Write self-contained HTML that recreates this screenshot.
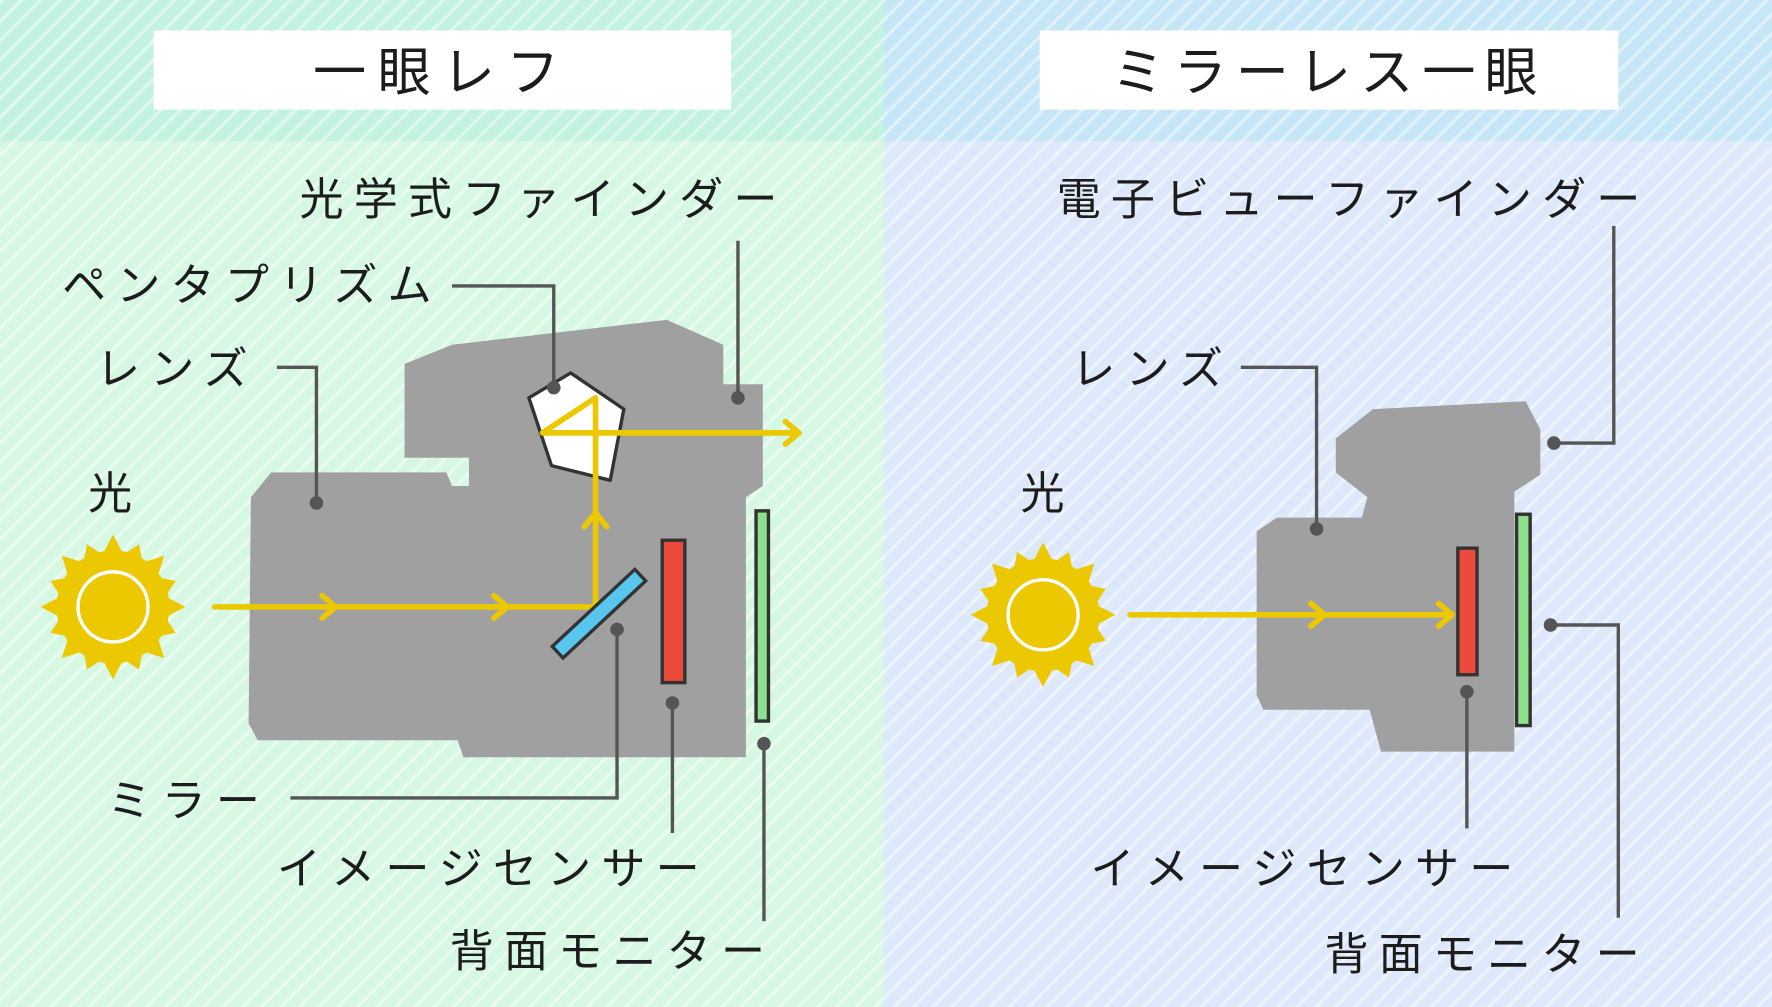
<!DOCTYPE html>
<html><head><meta charset="utf-8"><style>
html,body{margin:0;padding:0;background:#dff5ea;}
svg{display:block}
text{font-family:"Liberation Sans","Noto Sans CJK JP",sans-serif;fill:#1c1c1c;}
</style></head><body>
<svg width="1772" height="1007" viewBox="0 0 1568 891" preserveAspectRatio="none" xmlns="http://www.w3.org/2000/svg">
<defs>
<pattern id="st" width="12" height="12" patternUnits="userSpaceOnUse" patternTransform="rotate(-45)">
<rect width="12" height="3" fill="#ffffff" opacity="0.45"/>
</pattern>
<g id="sun">
<circle r="50" fill="#ebc800"/>
<g fill="#ebc800">
<polygon points="-10,-45 0,-64 10,-45"/><polygon points="-10,45 0,64 10,45"/>
<polygon points="-45,-10 -64,0 -45,10"/><polygon points="45,-10 64,0 45,10"/>
<g transform="rotate(45)"><polygon points="-10,-45 0,-64 10,-45"/><polygon points="-10,45 0,64 10,45"/><polygon points="-45,-10 -64,0 -45,10"/><polygon points="45,-10 64,0 45,10"/></g>
<g transform="rotate(22.5)"><polygon points="-10,-45 0,-60 10,-45"/><polygon points="-10,45 0,60 10,45"/><polygon points="-45,-10 -60,0 -45,10"/><polygon points="45,-10 60,0 45,10"/></g>
<g transform="rotate(67.5)"><polygon points="-10,-45 0,-60 10,-45"/><polygon points="-10,45 0,60 10,45"/><polygon points="-45,-10 -60,0 -45,10"/><polygon points="45,-10 60,0 45,10"/></g>
</g>
<circle r="31" fill="none" stroke="#fff" stroke-width="3"/>
</g>
</defs>
<rect x="0" y="0" width="782" height="125" fill="#c2f2e0"/>
<rect x="0" y="125" width="782" height="766" fill="#d6f7e2"/>
<rect x="782" y="0" width="786" height="125" fill="#c4e6f7"/>
<rect x="782" y="125" width="786" height="766" fill="#dde9fa"/>
<rect x="0" y="0" width="1568" height="891" fill="url(#st)"/>
<rect x="136" y="27" width="511" height="70" fill="#fff"/>
<rect x="920" y="27" width="512" height="70" fill="#fff"/>
<text x="391" y="80" font-size="47" text-anchor="middle" letter-spacing="10">一眼レフ</text>
<text x="1176" y="80" font-size="47" text-anchor="middle" letter-spacing="8">ミラーレス一眼</text>

<g fill="#a0a0a0">
<path d="M240,418 L395,418 L400,430 L415,430 L415,405 L358,405 L358,322 L400,305 L590,283 L640,305 L640,340 L675,340 L675,430 L660,440 L660,670 L410,670 L405,655 L228,655 L220,640 L222,440 Z"/>
</g>
<polygon points="468,352 505,330 552,362 540,425 488,412" fill="#fff" stroke="#333" stroke-width="3" stroke-linejoin="round"/>
<g stroke="#ebc800" stroke-width="5" fill="none" stroke-linecap="round" stroke-linejoin="round">
<path d="M190,537 L527,537 L527,352 L480,383 L705,383"/>
<path d="M285,527 L297,537 L285,547"/><path d="M437,527 L449,537 L437,547"/>
<path d="M517,466 L527,454 L537,466"/><path d="M695,373 L707,383 L695,393"/>
</g>
<g transform="translate(530,543) rotate(-43)"><rect x="-50" y="-7" width="100" height="14" fill="#58c6ee" stroke="#333" stroke-width="3"/></g>
<rect x="586" y="478" width="20" height="126" fill="#ec4a3a" stroke="#333" stroke-width="3"/>
<rect x="669" y="452" width="11" height="186" fill="#8de08d" stroke="#333" stroke-width="3"/>
<use href="#sun" x="100" y="537"/>
<g stroke="#555" stroke-width="3" fill="none">
<path d="M653,213 L653,352"/><path d="M400,253 L490,253 L490,343"/><path d="M245,325 L280,325 L280,445"/>
<path d="M257,706 L546,706 L546,557"/><path d="M595,737 L595,622"/><path d="M676,815 L676,658"/>
</g>
<g fill="#555"><circle cx="653" cy="352" r="6"/><circle cx="490" cy="343" r="6"/><circle cx="280" cy="445" r="6"/><circle cx="546" cy="557" r="6"/><circle cx="595" cy="622" r="6"/><circle cx="676" cy="658" r="6"/></g>
<g font-size="39" letter-spacing="9">
<text x="265" y="190">光学式ファインダー</text>
<text x="55" y="266">ペンタプリズム</text>
<text x="85" y="340">レンズ</text>
<text x="78" y="450">光</text>
<text x="95" y="722">ミラー</text>
<text x="245" y="782">イメージセンサー</text>
<text x="398" y="855">背面モニター</text>
</g>

<path d="M1130,458 L1205,458 L1210,440 L1182,418 L1182,388 L1215,362 L1350,355 L1363,380 L1363,420 L1340,435 L1340,665 L1222,665 L1212,628 L1118,628 L1112,615 L1112,470 Z" fill="#a0a0a0"/>
<g stroke="#ebc800" stroke-width="5" fill="none" stroke-linecap="round" stroke-linejoin="round">
<path d="M1000,544 L1285,544"/><path d="M1160,534 L1172,544 L1160,554"/><path d="M1273,534 L1285,544 L1273,554"/>
</g>
<rect x="1290" y="485" width="17" height="112" fill="#ec4a3a" stroke="#333" stroke-width="3"/>
<rect x="1342" y="455" width="12" height="187" fill="#8de08d" stroke="#333" stroke-width="3"/>
<use href="#sun" x="923" y="544"/>
<g stroke="#555" stroke-width="3" fill="none">
<path d="M1428,200 L1428,392 L1375,392"/><path d="M1098,325 L1165,325 L1165,468"/>
<path d="M1298,733 L1298,612"/><path d="M1432,812 L1432,553 L1372,553"/>
</g>
<g fill="#555"><circle cx="1375" cy="392" r="6"/><circle cx="1165" cy="468" r="6"/><circle cx="1298" cy="612" r="6"/><circle cx="1372" cy="553" r="6"/></g>
<g font-size="39" letter-spacing="9">
<text x="935" y="190">電子ビューファインダー</text>
<text x="948" y="340">レンズ</text>
<text x="903" y="450">光</text>
<text x="965" y="782">イメージセンサー</text>
<text x="1172" y="858">背面モニター</text>
</g>
</svg>
</body></html>
